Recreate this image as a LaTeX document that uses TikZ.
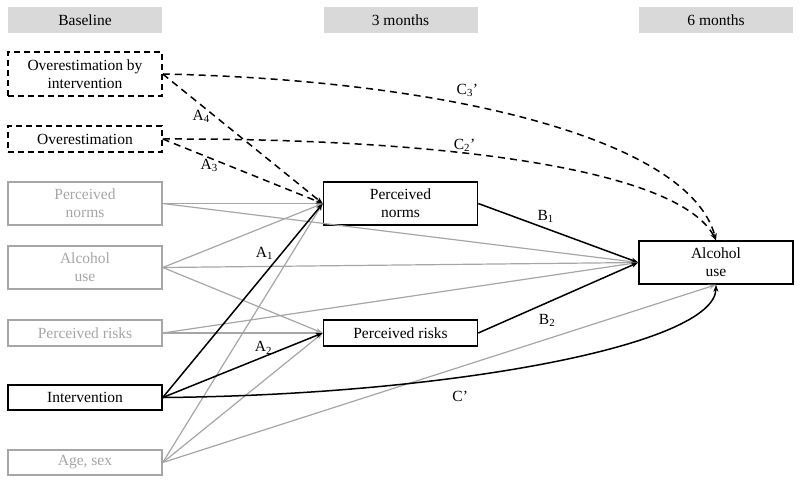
\documentclass[tikz,border=0pt]{standalone}
\usepackage{fontspec}
\setmainfont{Liberation Serif}
\usetikzlibrary{arrows.meta,calc}
\definecolor{hdrgray}{HTML}{D9D9D9}
\definecolor{lgray}{HTML}{A6A6A6}

\begin{document}
\begin{tikzpicture}[x=1pt,y=-1pt,>={Stealth[length=7pt,width=5pt]},
  font=\fontsize{15.5}{18}\selectfont,
  hdr/.style={fill=hdrgray,minimum width=154pt,minimum height=26pt,inner sep=0pt},
  box/.style={draw,line width=1.5pt,fill=white,minimum width=154pt,inner sep=0pt,align=center},
  gbox/.style={box,draw=lgray,text=lgray},
  dbox/.style={box,dash pattern=on 6pt off 4pt},
  gl/.style={->,color=lgray,line width=1.2pt},
  bl/.style={->,line width=1.5pt},
  dl/.style={->,line width=1.5pt,dash pattern=on 7pt off 5pt},
  lab/.style={inner sep=1pt}]
  \useasboundingbox (0,0) rectangle (800,483);
  % time points
  \node[hdr](hb) at (85,20){Baseline};
  \node[hdr](h3) at (400.5,20){3 months};
  \node[hdr](h6) at (716,20){6 months};
  % baseline
  \node[dbox,minimum height=44pt](oi) at (85,74){Overestimation by\\intervention};
  \node[dbox,minimum height=26pt](ov) at (85,139){Overestimation};
  \node[gbox,minimum height=43pt](pn0) at (85,203.5){Perceived\\norms};
  \node[gbox,minimum height=43pt](au0) at (85,267.5){Alcohol\\use};
  \node[gbox,minimum height=26pt](pr0) at (85,333){Perceived risks};
  \node[box,minimum height=25pt](in0) at (85,397.5){Intervention};
  \node[gbox,minimum height=25pt](as0) at (85,462.5){Age, sex};
  % 3 and 6 months
  \node[box,minimum height=43pt](pn3) at (400.5,203.5){Perceived\\norms};
  \node[box,minimum height=26pt](pr3) at (400.5,333){Perceived risks};
  \node[box,minimum height=43pt](au6) at (716,262.5){Alcohol\\use};
  % covariates
  \foreach \a/\b in {pn0/pn3.west,pn0/au6.west,au0/pn3.west,au0/au6.west,au0/pr3.west,
    pr0/pr3.west,pr0/au6.west,as0/pn3.west,as0/pr3.west,as0/au6.south}
    \draw[gl](\a.east)--(\b);
  % paths
  \draw[bl](in0.east)--node[lab,pos=0.7,anchor=south east]{A\textsubscript{1}}(pn3.west);
  \draw[bl](in0.east)--node[lab,pos=0.63,above=1pt]{A\textsubscript{2}}(pr3.west);
  \draw[bl](in0.east) .. controls (450,395) and (715,345) .. node[lab,pos=0.37,below=12pt]{C'}(au6.south);
  \draw[bl](pn3.east)--node[lab,pos=0.36,anchor=south west]{B\textsubscript{1}}(au6.west);
  \draw[bl](pr3.east)--node[lab,pos=0.43,below=10pt]{B\textsubscript{2}}(au6.west);
  \draw[dl](oi.east)--node[lab,pos=0.33,left=4pt]{A\textsubscript{4}}(pn3.west);
  \draw[dl](ov.east)--node[lab,pos=0.29,below=0pt]{A\textsubscript{3}}(pn3.west);
  \draw[dl](oi.east) .. controls (450,80) and (690,140) .. node[lab,pos=0.39,above=6pt]{C\textsubscript{3}'}(au6.north);
  \draw[dl](ov.east) .. controls (450,138) and (680,170) .. node[lab,pos=0.39,above=0pt]{C\textsubscript{2}'}(au6.north);
\end{tikzpicture}
\end{document}
